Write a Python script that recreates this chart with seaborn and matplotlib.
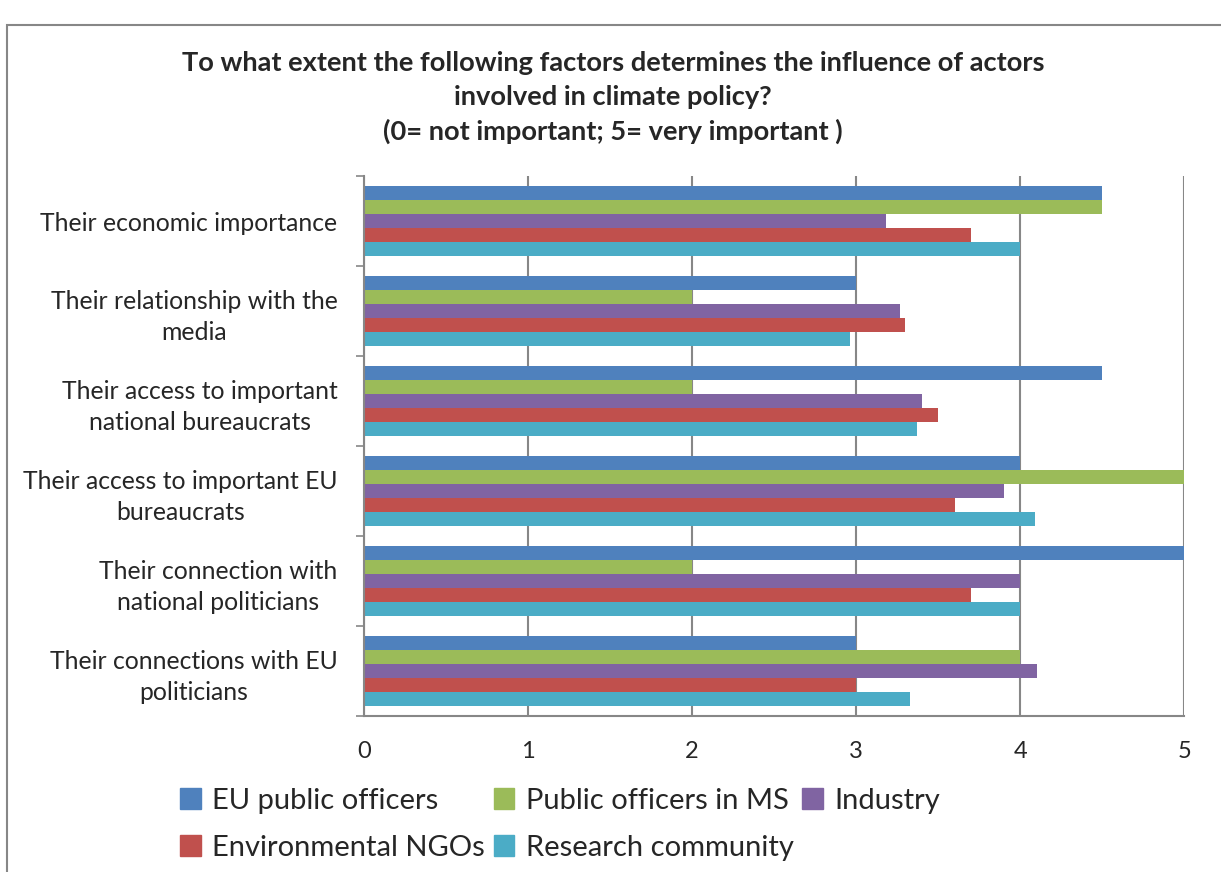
import numpy as np
import pandas as pd
import seaborn as sns
import matplotlib.pyplot as plt
from matplotlib.patches import Patch, Rectangle
from matplotlib.ticker import FixedLocator

factors = ['Their economic importance',
           'Their relationship with the\nmedia',
           'Their access to important\nnational bureaucrats',
           'Their access to important EU\nbureaucrats',
           'Their connection with\nnational politicians',
           'Their connections with EU\npoliticians']

groups = ['EU public officers', 'Public officers in MS', 'Industry',
          'Environmental NGOs', 'Research community']

eu_officers = [4.5, 3.0, 4.5, 4.0, 5.0, 3.0]
ms_officers = [4.5, 2.0, 2.0, 5.0, 2.0, 4.0]
industry = [3.18, 3.27, 3.40, 3.90, 4.0, 4.10]
ngos = [3.70, 3.30, 3.50, 3.60, 3.70, 3.0]
research = [4.0, 2.96, 3.37, 4.09, 4.0, 3.33]

colors = ['#4F81BD', '#9BBB59', '#8064A2', '#C0504D', '#4BACC6']

rows = []
for g, vals in zip(groups, [eu_officers, ms_officers, industry, ngos, research]):
    for f, v in zip(factors, vals):
        rows.append({'factor': f, 'group': g, 'score': v})
df = pd.DataFrame(rows)

sns.set_style('white')
plt.rcParams['font.family'] = ['Lato', 'DejaVu Sans']

fig, ax = plt.subplots(figsize=(12.21, 8.72), dpi=100)
fig.subplots_adjust(left=0.298, right=0.970, top=0.798, bottom=0.179)

sns.barplot(data=df, x='score', y='factor', hue='group', order=factors,
            hue_order=groups, palette=colors, saturation=1, width=0.78,
            orient='h', linewidth=0, legend=False, ax=ax)

ax.set_xlim(0, 5)
ax.set_ylim(5.5, -0.5)
ax.set_xticks(range(6))
ax.set_xlabel('')
ax.set_ylabel('')
ax.set_axisbelow(True)
ax.xaxis.grid(True, color='#878787', lw=1.5)
ax.yaxis.grid(False)

for s in ['top', 'right']:
    ax.spines[s].set_visible(False)
for s in ['left', 'bottom']:
    ax.spines[s].set_color('#878787')
    ax.spines[s].set_linewidth(1.5)

ax.yaxis.set_minor_locator(FixedLocator(np.arange(-0.5, 6, 1)))
ax.tick_params(axis='y', which='major', length=0, pad=19, labelsize=17.8)
ax.tick_params(axis='y', which='minor', length=6, width=1.2, color='#878787', left=True)
ax.tick_params(axis='x', which='major', length=0, pad=18, labelsize=17)
for lbl in ax.get_yticklabels():
    lbl.set_multialignment('center')
    lbl.set_linespacing(1.4)

fig.text(0.502, 0.942,
         'To what extent the following factors determines the influence of actors\n'
         'involved in climate policy?\n(0= not important; 5= very important )',
         ha='center', va='top', fontsize=19.6, fontweight='bold', linespacing=1.5)

handles = [Patch(color=c, label=g) for c, g in zip(colors, groups)]
order = [0, 3, 1, 4, 2]
fig.legend([handles[i] for i in order], [groups[i] for i in order],
           loc='upper left', bbox_to_anchor=(0.138, 0.110), ncol=3, frameon=False,
           fontsize=21, handlelength=0.7, handleheight=0.7, handletextpad=0.4,
           columnspacing=0.3, labelspacing=0.72, borderaxespad=0)

fig.patches.append(Rectangle((0.006, -0.01), 1.0, 0.981, transform=fig.transFigure,
                             fill=False, edgecolor='#878787', lw=1.5))

fig.savefig('out.png', dpi=100)
